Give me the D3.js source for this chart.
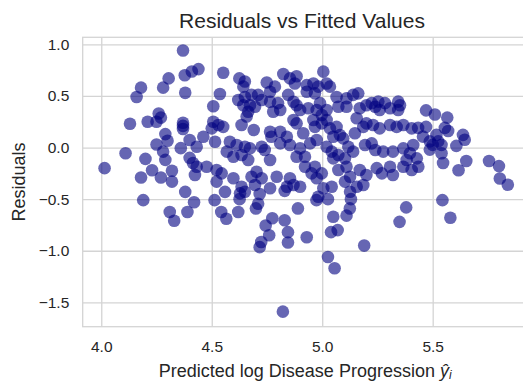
<!DOCTYPE html>
<html><head><meta charset="utf-8">
<script src="https://cdn.jsdelivr.net/npm/d3@7"></script>
<style>body{margin:0;background:#fff}svg{display:block;font-family:"Liberation Sans",Arial,sans-serif}</style>
</head><body><svg id="c" width="523" height="383"></svg>
<script>
// fitted values (x) and residuals (y), parallel arrays
const fitted = [
4.37,4.305,4.378,4.41,4.44,4.18,4.28,4.16,4.38,4.26,4.27,4.13,4.21,4.25,4.37,4.37,4.37,4.29,4.25,4.30,4.36,4.11,4.20,4.29,4.28,4.40,4.415,4.015,4.23,4.32,4.18,4.27,4.32,4.38,4.42,4.19,4.31,4.33,4.39,
4.56,4.717,4.83,4.513,4.543,4.566,4.626,4.62,4.71,4.70,4.89,4.93,4.774,4.744,4.76,4.724,4.717,4.83,4.845,4.845,4.822,
4.974,5.026,5.13,5.125,5.11,5.05,5.04,5.07,5.38,5.35,5.19,5.026,5.056,
5.47,5.51,5.566,5.434,5.47,5.555,5.57,5.456,5.487,5.517,5.525,5.54,5.50,5.637,5.645,5.607,5.487,5.54,5.547,5.652,5.617,5.755,5.80,5.804,5.84,5.544,5.58,
4.552,4.625,4.65,4.643,4.749,4.786,4.764,4.824,4.854,4.884,4.876,
4.93,4.96,4.982,4.967,5.005,5.02,5.035,5.065,5.11,5.14,5.163,
5.224,5.254,5.284,5.344,5.352,4.537,4.507,4.62,4.65,4.68,4.71,4.726,
4.643,4.673,4.665,4.696,4.764,4.8,4.81,4.778,4.846,4.87,4.884,4.9,
4.93,4.937,4.99,4.975,5.02,4.998,5.073,5.11,5.17,5.2,5.24,5.26,5.307,5.344,
4.507,4.53,4.552,4.5,4.635,4.658,4.69,4.764,4.81,4.77,4.84,4.87,4.884,4.914,
4.96,4.967,4.998,5.02,5.035,5.065,5.05,5.08,5.095,5.148,5.186,5.2,5.23,
5.26,5.307,5.337,5.367,5.405,5.156,4.462,4.40,4.432,4.515,
4.582,4.613,4.65,4.673,4.568,4.598,4.635,4.665,4.74,4.764,4.81,4.854,
4.9,4.922,4.884,4.945,4.975,5.02,5.043,5.05,5.073,5.118,5.14,5.103,
5.194,5.224,5.24,5.276,5.32,5.367,5.397,5.412,5.382,5.428,4.726,
4.432,4.477,4.424,4.522,4.545,4.522,4.598,4.635,4.65,4.628,
4.68,4.703,4.726,4.696,4.764,4.794,4.854,4.84,4.87,4.9,
4.922,4.952,4.967,4.975,4.998,5.043,5.005,4.982,5.073,5.11,5.126,5.103,
5.17,5.2,5.186,5.156,5.247,5.27,5.307,5.32,5.367,5.405,5.435,5.126
];
const residuals = [
0.94,0.67,0.70,0.736,0.76,0.58,0.58,0.49,0.53,0.33,0.29,0.23,0.25,0.25,0.24,0.21,0.18,0.13,0.03,0.065,-0.006,-0.055,-0.11,-0.12,-0.04,-0.10,-0.15,-0.20,-0.22,-0.225,-0.29,-0.29,-0.33,-0.43,-0.53,-0.51,-0.625,-0.71,-0.625,
-0.43,-0.45,-0.42,-0.51,-0.625,-0.69,-0.50,-0.625,-0.545,-0.59,-0.59,-0.87,-0.685,-0.755,-0.85,-0.915,-0.965,-0.705,-0.82,-0.92,-1.59,
-0.51,-0.50,-0.50,-0.59,-0.66,-0.67,-0.82,-0.80,-0.58,-0.72,-0.95,-1.06,-1.17,
0.36,0.32,0.29,0.19,0.20,0.19,0.16,0.106,0.06,0.123,0.06,0.026,0.026,0.123,0.075,0.016,-0.02,-0.055,-0.15,-0.13,-0.22,-0.13,-0.18,-0.30,-0.36,-0.51,-0.68,
0.725,0.67,0.64,0.59,0.63,0.59,0.54,0.712,0.67,0.69,0.62,
0.605,0.62,0.59,0.525,0.735,0.62,0.59,0.49,0.477,0.51,0.525,
0.43,0.445,0.43,0.445,0.41,0.518,0.40,0.46,0.49,0.51,0.51,0.46,
0.41,0.41,0.347,0.395,0.444,0.43,0.363,0.347,0.51,0.444,0.41,0.363,
0.54,0.38,0.43,0.363,0.363,0.315,0.395,0.395,0.38,0.41,0.395,0.363,0.38,0.363,
0.25,0.218,0.2,0.186,0.218,0.30,0.17,0.153,0.153,0.105,0.105,0.266,0.234,0.138,
0.266,0.2,0.234,0.266,0.186,0.2,0.105,0.121,0.089,0.138,0.2,0.234,0.218,
0.186,0.218,0.2,0.218,0.186,0.283,0.105,0.073,0.008,0.056,
0.056,0.024,0.008,-0.008,-0.04,-0.089,-0.073,-0.121,-0.024,-0.121,0.04,0.024,
-0.008,-0.089,-0.089,0.04,0.073,0.008,-0.04,-0.105,-0.073,0.008,-0.04,-0.105,
0.024,0.04,-0.024,-0.04,-0.04,-0.008,-0.056,0.024,-0.121,-0.105,0.008,
-0.186,-0.186,-0.266,-0.218,-0.25,-0.33,-0.298,-0.38,-0.428,-0.444,
-0.283,-0.234,-0.298,-0.363,-0.395,-0.283,-0.298,-0.38,-0.363,-0.38,
-0.186,-0.25,-0.186,-0.298,-0.25,-0.38,-0.395,-0.477,-0.218,-0.186,-0.283,-0.33,
-0.218,-0.266,-0.363,-0.38,-0.2,-0.25,-0.186,-0.266,-0.186,-0.218,-0.186,-0.428
];
const xTicks = [4.0, 4.5, 5.0, 5.5];
const yTicks = [1.0, 0.5, 0.0, -0.5, -1.0, -1.5];
const title = "Residuals vs Fitted Values";
const xLabel = "Predicted log Disease Progression ";
const yLabel = "Residuals";

const svg = d3.select("#c");
const L = 82.7, R = 527.7, T = 37.3, B = 326.7;
const x = d3.scaleLinear().domain([3.916, 5.93]).range([L, R]);
const y = d3.scaleLinear().domain([-1.736, 1.068]).range([B, T]);
const grid = "#d4d4d4", txt = "#262626";

// grid
const gx = svg.append("g").attr("transform", `translate(0,${B})`)
  .call(d3.axisBottom(x).tickValues(xTicks).tickSize(-(B - T)).tickFormat(""));
const gy = svg.append("g").attr("transform", `translate(${L},0)`)
  .call(d3.axisLeft(y).tickValues(yTicks).tickSize(-(R - L)).tickFormat(""));
[gx, gy].forEach(g => {
  g.select(".domain").remove();
  g.selectAll("line").attr("stroke", grid).attr("stroke-width", 1.3);
});

// tick labels
const lx = svg.append("g").attr("transform", `translate(0,${B})`)
  .call(d3.axisBottom(x).tickValues(xTicks).tickSize(0).tickPadding(14.6).tickFormat(d3.format(".1f")));
const ly = svg.append("g").attr("transform", `translate(${L},0)`)
  .call(d3.axisLeft(y).tickValues(yTicks).tickSize(0).tickPadding(13.4).tickFormat(d => d3.format(".1f")(d).replace("-", "\u2212")));
[lx, ly].forEach(g => {
  g.select(".domain").remove();
  g.selectAll("text").attr("fill", txt).style("font-size", "15.5px").style("font-family", '"Liberation Sans",Arial,sans-serif');
});

// frame
svg.append("rect").attr("x", L).attr("y", T).attr("width", R - L).attr("height", B - T)
  .attr("fill", "none").attr("stroke", grid).attr("stroke-width", 1.3);

// points
const pts = fitted.map((f, i) => ({f, r: residuals[i]}));
svg.append("g").selectAll("circle").data(pts).join("circle")
  .attr("cx", d => x(d.f)).attr("cy", d => y(d.r)).attr("r", 6.3)
  .attr("fill", "navy").attr("fill-opacity", 0.6);

// title & axis labels
svg.append("text").attr("x", 302).attr("y", 28.3).attr("text-anchor", "middle")
  .attr("fill", txt).style("font-size", "21px").text(title);
const xl = svg.append("text").attr("x", (L + R) / 2).attr("y", 377).attr("text-anchor", "middle")
  .attr("fill", txt).style("font-size", "18px");
xl.append("tspan").text(xLabel);
xl.append("tspan").style("font-style", "italic").text("\u0177");
xl.append("tspan").style("font-style", "italic").style("font-size", "12px").attr("dy", 2).text("i");
svg.append("text").attr("transform", `translate(25,${(T + B) / 2}) rotate(-90)`).attr("text-anchor", "middle")
  .attr("fill", txt).style("font-size", "18px").text(yLabel);
</script></body></html>
